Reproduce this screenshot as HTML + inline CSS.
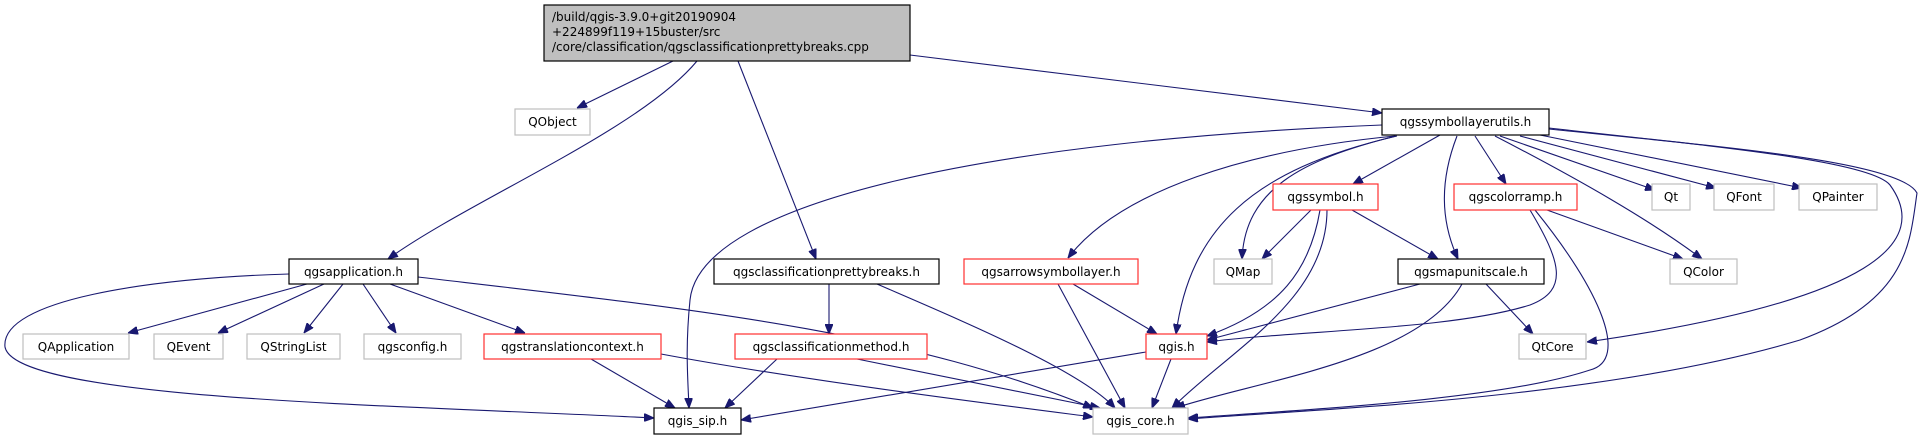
<!DOCTYPE html>
<html><head><meta charset="utf-8"><style>
html,body{margin:0;padding:0;background:#fff;}
svg{display:block;}
text{font-family:"DejaVu Sans","Liberation Sans",sans-serif;font-size:12px;fill:#000;}
.e{fill:none;stroke:#191970;stroke-width:1.1;}
.k{fill:#fff;stroke:#000;stroke-width:1.2;}
.r{fill:#fff;stroke:#ff3030;stroke-width:1.2;}
.g{fill:#fff;stroke:#bfbfbf;stroke-width:1.2;}
</style></head><body>
<svg width="1924" height="440" viewBox="0 0 1924 440" xmlns="http://www.w3.org/2000/svg">
<defs>
<marker id="a" viewBox="0 0 10 8" refX="10" refY="4" markerWidth="10" markerHeight="8" markerUnits="userSpaceOnUse" orient="auto">
<path d="M0,0 L10,4 L0,8 z" fill="#191970" stroke="#191970"/>
</marker>
</defs>
<g class="e" marker-end="url(#a)">
<!-- root -->
<path d="M673,61 L577,108"/>
<path d="M697,61 C640,130 470,200 388,259"/>
<path d="M738,61 L816,259"/>
<path d="M910,55 L1382,113"/>
<!-- qgssymbollayerutils -->
<path d="M1382,125 C1000,140 700,200 690,300 C685,350 688,380 689,408"/>
<path d="M1395,136 C1250,150 1120,190 1068,258"/>
<path d="M1397,136 C1250,170 1190,230 1176,334"/>
<path d="M1396,136 C1300,160 1245,190 1242,259"/>
<path d="M1440,135 L1353,184"/>
<path d="M1457,136 C1440,180 1440,220 1458,259"/>
<path d="M1475,136 L1506,184"/>
<path d="M1500,136 L1655,190"/>
<path d="M1520,136 L1716,188"/>
<path d="M1540,135 L1802,188"/>
<path d="M1495,136 C1580,180 1650,220 1702,259"/>
<path d="M1549,128 C1700,145 1870,160 1890,185 C1930,240 1880,300 1587,342"/>
<path d="M1549,129 C1700,145 1900,160 1917,193 C1910,240 1910,300 1800,340 C1600,400 1300,410 1188,419"/>
<!-- qgssymbol -->
<path d="M1311,210 L1262,259"/>
<path d="M1320,210 C1310,270 1280,310 1207,336"/>
<path d="M1327,210 C1327,300 1230,350 1172,408"/>
<path d="M1352,210 L1438,259"/>
<!-- qgscolorramp -->
<path d="M1547,210 L1683,259"/>
<path d="M1530,210 C1560,260 1570,290 1530,305 C1450,330 1300,330 1207,342"/>
<path d="M1535,210 C1600,290 1630,360 1590,370 C1500,400 1300,410 1188,418"/>
<!-- qgsmapunitscale -->
<path d="M1420,284 L1207,340"/>
<path d="M1462,284 C1420,360 1260,380 1175,408"/>
<path d="M1486,284 L1533,334"/>
<!-- arrowsymbollayer -->
<path d="M1073,284 L1157,334"/>
<path d="M1058,284 L1125,408"/>
<!-- prettybreaks -->
<path d="M829,284 L829,334"/>
<path d="M877,284 C960,320 1080,370 1115,408"/>
<!-- qgsapplication -->
<path d="M307,284 L128,333"/>
<path d="M324,284 L218,333"/>
<path d="M343,284 L304,333"/>
<path d="M363,284 L396,333"/>
<path d="M390,284 L525,333"/>
<path d="M289,274 C150,278 0,300 5,347 C15,400 400,405 654,418"/>
<path d="M418,277 C700,310 900,330 1093,408"/>
<!-- translationcontext -->
<path d="M591,359 L675,408"/>
<path d="M661,354 C800,380 1000,405 1093,417"/>
<!-- classificationmethod -->
<path d="M777,359 L725,408"/>
<path d="M857,359 L1100,408"/>
<!-- qgis.h -->
<path d="M1146,352 L741,420"/>
<path d="M1171,359 L1152,408"/>
</g>
<!-- nodes -->
<rect x="544" y="5" width="366" height="56" fill="#bfbfbf" stroke="#000" stroke-width="1.2"/>
<text x="552" y="21">/build/qgis-3.9.0+git20190904</text>
<text x="552" y="36">+224899f119+15buster/src</text>
<text x="552" y="51">/core/classification/qgsclassificationprettybreaks.cpp</text>
<g text-anchor="middle">
<rect class="g" x="515" y="109" width="75" height="26"/><text x="552.5" y="126">QObject</text>
<rect class="k" x="1382" y="109" width="167" height="26" stroke="#404040"/><text x="1465.5" y="126">qgssymbollayerutils.h</text>
<rect class="r" x="1273" y="184" width="105" height="26"/><text x="1325.5" y="201">qgssymbol.h</text>
<rect class="r" x="1454" y="184" width="123" height="26"/><text x="1515.5" y="201">qgscolorramp.h</text>
<rect class="g" x="1652" y="184" width="38" height="26"/><text x="1671" y="201">Qt</text>
<rect class="g" x="1714" y="184" width="60" height="26"/><text x="1744" y="201">QFont</text>
<rect class="g" x="1799" y="184" width="78" height="26"/><text x="1838" y="201">QPainter</text>
<rect class="k" x="289" y="259" width="129" height="25"/><text x="353.5" y="276">qgsapplication.h</text>
<rect class="k" x="714" y="259" width="225" height="25"/><text x="826.5" y="276">qgsclassificationprettybreaks.h</text>
<rect class="r" x="964" y="259" width="174" height="25"/><text x="1051" y="276">qgsarrowsymbollayer.h</text>
<rect class="g" x="1214" y="259" width="58" height="25"/><text x="1243" y="276">QMap</text>
<rect class="k" x="1398" y="259" width="146" height="25"/><text x="1471" y="276">qgsmapunitscale.h</text>
<rect class="g" x="1670" y="259" width="67" height="25"/><text x="1703.5" y="276">QColor</text>
<rect class="g" x="23" y="334" width="106" height="25"/><text x="76" y="351">QApplication</text>
<rect class="g" x="154" y="334" width="69" height="25"/><text x="188.5" y="351">QEvent</text>
<rect class="g" x="247" y="334" width="93" height="25"/><text x="293.5" y="351">QStringList</text>
<rect class="g" x="364" y="334" width="97" height="25"/><text x="412.5" y="351">qgsconfig.h</text>
<rect class="r" x="484" y="334" width="177" height="25"/><text x="572.5" y="351">qgstranslationcontext.h</text>
<rect class="r" x="735" y="334" width="192" height="25"/><text x="831" y="351">qgsclassificationmethod.h</text>
<rect class="r" x="1146" y="334" width="61" height="25"/><text x="1176.5" y="351">qgis.h</text>
<rect class="g" x="1519" y="334" width="67" height="25"/><text x="1552.5" y="351">QtCore</text>
<rect class="k" x="654" y="408" width="87" height="26"/><text x="697.5" y="425">qgis_sip.h</text>
<rect class="g" x="1093" y="408" width="95" height="26"/><text x="1140.5" y="425">qgis_core.h</text>
</g>
</svg>
</body></html>
